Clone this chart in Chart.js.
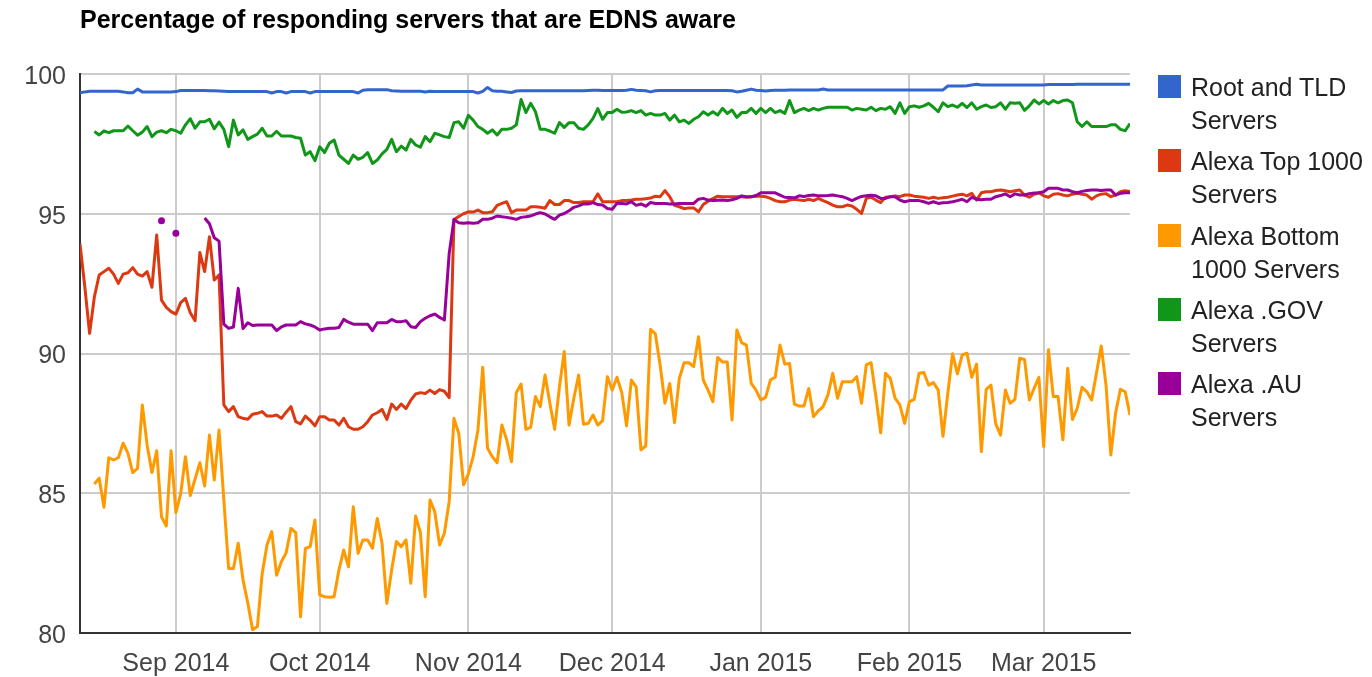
<!DOCTYPE html>
<html>
<head>
<meta charset="utf-8">
<title>EDNS aware servers</title>
<script src="https://cdn.jsdelivr.net/npm/chart.js@4.4.1/dist/chart.umd.min.js"></script>
<style>
  html, body { margin: 0; padding: 0; background: #fff; }
  #wrap { position: relative; width: 1372px; height: 677px; font-family: Arial, "Liberation Sans", sans-serif; }
  #chartTitle { position: absolute; left: 80px; top: 7px; font-size: 25px; line-height: 25px; font-weight: bold; color: #000; white-space: nowrap; }
  #legend { position: absolute; left: 1158px; top: 0; }
  .leg-item { position: absolute; left: 0; width: 214px; }
  .leg-box { position: absolute; left: 0; top: 4px; width: 23px; height: 23px; }
  .leg-text { position: absolute; left: 33px; top: 0; font-size: 25px; line-height: 33px; color: #222; white-space: nowrap; }
</style>
</head>
<body>
<div id="wrap">
  <canvas id="ednsChart"></canvas>
  <div id="chartTitle">Percentage of responding servers that are EDNS aware</div>
  <div id="legend"></div>
</div>
<script>
// daily samples, day 0 = 12 Aug 2014, day 219 = 19 Mar 2015
const startDate = new Date(2014, 7, 12);

const tickDays = [20, 50, 81, 111, 142, 173, 201];
const tickLabels = ['Sep 2014', 'Oct 2014', 'Nov 2014', 'Dec 2014', 'Jan 2015', 'Feb 2015', 'Mar 2015'];

const seriesNames = [
    ['Root and TLD', 'Servers'],
    ['Alexa Top 1000', 'Servers'],
    ['Alexa Bottom', '1000 Servers'],
    ['Alexa .GOV', 'Servers'],
    ['Alexa .AU', 'Servers']
];
const seriesColors = ['#3366cc', '#dc3912', '#ff9900', '#109618', '#990099'];

const rootTld = [
    99.33, 99.36, 99.38, 99.38, 99.38, 99.38, 99.38, 99.38, 99.38, 99.36,
    99.33, 99.33, 99.46, 99.36, 99.36, 99.36, 99.36, 99.36, 99.36, 99.36,
    99.37, 99.41, 99.41, 99.41, 99.41, 99.41, 99.41, 99.40, 99.40, 99.39,
    99.38, 99.37, 99.37, 99.37, 99.37, 99.37, 99.37, 99.37, 99.37, 99.37,
    99.32, 99.37, 99.37, 99.32, 99.37, 99.37, 99.37, 99.37, 99.32, 99.37,
    99.37, 99.37, 99.37, 99.37, 99.37, 99.37, 99.37, 99.37, 99.32, 99.42,
    99.44, 99.44, 99.44, 99.44, 99.44, 99.40, 99.39, 99.38, 99.38, 99.38,
    99.38, 99.38, 99.36, 99.38, 99.37, 99.37, 99.37, 99.37, 99.37, 99.37,
    99.37, 99.37, 99.37, 99.32, 99.38, 99.52, 99.40, 99.38, 99.38, 99.36,
    99.34, 99.39, 99.40, 99.40, 99.40, 99.40, 99.40, 99.40, 99.40, 99.40,
    99.40, 99.40, 99.40, 99.40, 99.40, 99.40, 99.41, 99.42, 99.42, 99.41,
    99.41, 99.41, 99.41, 99.41, 99.42, 99.45, 99.42, 99.41, 99.40, 99.36,
    99.40, 99.41, 99.41, 99.41, 99.41, 99.41, 99.41, 99.41, 99.41, 99.41,
    99.41, 99.41, 99.41, 99.41, 99.41, 99.41, 99.40, 99.36, 99.38, 99.42,
    99.46, 99.42, 99.41, 99.39, 99.41, 99.42, 99.42, 99.42, 99.43, 99.43,
    99.43, 99.43, 99.43, 99.43, 99.43, 99.46, 99.43, 99.43, 99.43, 99.43,
    99.43, 99.43, 99.43, 99.43, 99.43, 99.43, 99.43, 99.43, 99.43, 99.43,
    99.43, 99.43, 99.43, 99.43, 99.43, 99.43, 99.43, 99.43, 99.43, 99.43,
    99.43, 99.57, 99.57, 99.57, 99.57, 99.58, 99.61, 99.63, 99.61, 99.61,
    99.61, 99.61, 99.61, 99.61, 99.61, 99.61, 99.61, 99.61, 99.61, 99.61,
    99.61, 99.61, 99.62, 99.62, 99.62, 99.62, 99.62, 99.62, 99.63, 99.63,
    99.63, 99.63, 99.63, 99.63, 99.63, 99.63, 99.63, 99.63, 99.63, 99.63
];

const alexaTop = [
    93.92, 92.39, 90.72, 92.03, 92.81, 92.93, 93.05, 92.84, 92.51, 92.84,
    92.89, 93.07, 92.84, 92.77, 92.93, 92.37, 94.24, 91.91, 91.65, 91.50,
    91.41, 91.82, 91.97, 91.46, 91.17, 93.61, 92.93, 94.18, 92.63, 92.81,
    88.16, 87.92, 88.10, 87.74, 87.68, 87.65, 87.83, 87.86, 87.92, 87.76,
    87.76, 87.80, 87.68, 87.90, 88.10, 87.56, 87.48, 87.76, 87.61, 87.41,
    87.74, 87.74, 87.62, 87.62, 87.44, 87.68, 87.38, 87.29, 87.29, 87.38,
    87.56, 87.80, 87.88, 88.00, 87.64, 88.19, 88.00, 88.19, 88.03, 88.33,
    88.55, 88.60, 88.57, 88.69, 88.57, 88.71, 88.65, 88.42, 94.79, 94.90,
    95.00, 95.07, 95.06, 95.13, 95.04, 95.04, 95.07, 95.30, 95.37, 95.43,
    95.04, 95.13, 95.13, 95.13, 95.25, 95.25, 95.23, 95.20, 95.47, 95.33,
    95.33, 95.47, 95.47, 95.40, 95.40, 95.43, 95.43, 95.43, 95.71, 95.43,
    95.43, 95.43, 95.43, 95.47, 95.47, 95.49, 95.52, 95.52, 95.54, 95.56,
    95.63, 95.61, 95.83, 95.61, 95.30, 95.25, 95.18, 95.21, 95.21, 95.07,
    95.33, 95.45, 95.54, 95.63, 95.61, 95.61, 95.61, 95.61, 95.61, 95.59,
    95.61, 95.63, 95.63, 95.61, 95.55, 95.47, 95.43, 95.43, 95.49, 95.52,
    95.49, 95.47, 95.52, 95.47, 95.55, 95.47, 95.40, 95.31, 95.25, 95.25,
    95.31, 95.28, 95.16, 95.01, 95.55, 95.59, 95.49, 95.40, 95.59, 95.61,
    95.64, 95.61, 95.67, 95.67, 95.63, 95.61, 95.59, 95.55, 95.59, 95.55,
    95.57, 95.59, 95.63, 95.67, 95.70, 95.64, 95.73, 95.49, 95.75, 95.79,
    95.79, 95.83, 95.85, 95.82, 95.79, 95.82, 95.85, 95.67, 95.59, 95.70,
    95.75, 95.64, 95.59, 95.70, 95.72, 95.67, 95.64, 95.70, 95.73, 95.70,
    95.67, 95.52, 95.64, 95.70, 95.72, 95.61, 95.67, 95.79, 95.82, 95.80
];

const alexaBottom = [
    null, null, null, 85.33, 85.54, 84.50, 86.27, 86.19, 86.27, 86.79,
    86.43, 85.74, 85.89, 88.16, 86.73, 85.74, 86.52, 84.16, 83.83, 86.52,
    84.31, 84.99, 86.31, 84.92, 85.51, 86.09, 85.26, 87.08, 85.47, 87.26,
    84.76, 82.31, 82.31, 83.21, 81.90, 81.07, 80.12, 80.23, 82.13, 83.15,
    83.63, 82.07, 82.55, 82.87, 83.74, 83.59, 80.58, 83.03, 83.09, 84.04,
    81.36, 81.30, 81.28, 81.30, 82.25, 82.97, 82.37, 84.52, 82.85, 83.33,
    83.33, 83.03, 84.10, 83.21, 81.06, 82.25, 83.27, 83.09, 83.33, 81.78,
    84.19, 83.59, 81.30, 84.76, 84.34, 83.15, 83.57, 84.70, 87.68, 87.14,
    85.30, 85.69, 86.31, 87.26, 89.51, 86.61, 86.31, 86.09, 87.44, 86.91,
    86.13, 88.60, 88.91, 87.29, 87.36, 88.46, 88.10, 89.23, 88.22, 87.29,
    88.81, 90.07, 87.44, 88.40, 89.23, 87.47, 87.50, 87.80, 87.44, 87.60,
    89.17, 88.69, 89.15, 88.60, 87.41, 89.05, 88.81, 86.55, 86.69, 90.86,
    90.70, 89.59, 88.22, 88.93, 87.53, 89.11, 89.67, 89.67, 89.53, 90.60,
    89.05, 88.69, 88.28, 89.86, 89.70, 89.70, 87.62, 90.84, 90.39, 90.30,
    88.93, 88.69, 88.34, 88.43, 89.05, 89.15, 90.30, 89.62, 89.64, 88.19,
    88.12, 88.12, 88.75, 87.74, 87.95, 88.10, 88.52, 89.29, 88.40, 88.99,
    88.99, 88.99, 89.17, 88.22, 89.59, 89.67, 88.46, 87.16, 89.29, 89.11,
    88.40, 88.16, 87.50, 88.28, 88.36, 89.29, 89.32, 88.87, 88.96, 88.69,
    87.04, 88.58, 89.99, 89.27, 89.95, 90.01, 89.15, 89.62, 86.49, 88.72,
    88.87, 87.48, 87.08, 88.69, 88.22, 88.36, 89.83, 89.79, 88.34, 88.75,
    89.15, 86.67, 90.13, 88.46, 88.46, 86.91, 89.47, 87.64, 88.04, 88.79,
    88.63, 88.34, 89.29, 90.27, 88.87, 86.37, 87.88, 88.72, 88.63, 87.80
];

const alexaGov = [
    null, null, null, 97.94, 97.82, 97.96, 97.90, 97.97, 97.97, 97.97,
    98.14, 97.97, 97.81, 97.92, 98.12, 97.76, 97.92, 97.97, 97.90, 98.02,
    97.97, 97.88, 98.18, 98.40, 98.06, 98.29, 98.29, 98.38, 98.04, 98.28,
    98.02, 97.40, 98.35, 97.82, 98.00, 97.66, 97.76, 97.85, 98.06, 97.78,
    97.78, 97.95, 97.78, 97.78, 97.78, 97.73, 97.70, 97.10, 97.22, 96.90,
    97.40, 97.19, 97.52, 97.64, 97.10, 96.95, 96.80, 97.10, 96.95, 97.02,
    97.19, 96.80, 96.92, 97.14, 97.30, 97.66, 97.22, 97.42, 97.28, 97.66,
    97.46, 97.38, 97.76, 97.58, 97.88, 97.82, 97.76, 97.73, 98.26, 98.29,
    98.06, 98.52, 98.35, 98.12, 98.02, 97.88, 98.00, 97.82, 98.02, 98.02,
    98.06, 98.18, 99.09, 98.62, 98.95, 98.65, 98.02, 98.02, 97.96, 97.88,
    98.26, 98.09, 98.26, 98.26, 98.06, 98.02, 98.18, 98.41, 98.76, 98.38,
    98.62, 98.62, 98.74, 98.63, 98.64, 98.69, 98.62, 98.69, 98.53, 98.59,
    98.53, 98.53, 98.59, 98.35, 98.53, 98.29, 98.35, 98.23, 98.38, 98.47,
    98.65, 98.53, 98.65, 98.53, 98.77, 98.59, 98.71, 98.45, 98.62, 98.62,
    98.77, 98.59, 98.77, 98.62, 98.77, 98.62, 98.69, 98.59, 99.05, 98.62,
    98.71, 98.77, 98.69, 98.77, 98.71, 98.77, 98.81, 98.81, 98.81, 98.81,
    98.81, 98.71, 98.77, 98.74, 98.71, 98.81, 98.69, 98.77, 98.74, 98.83,
    98.59, 98.97, 98.59, 98.83, 98.86, 98.81, 98.86, 98.95, 98.81, 98.65,
    98.97, 98.83, 98.89, 98.81, 98.95, 98.80, 98.97, 98.74, 98.83, 98.89,
    98.80, 98.83, 98.97, 98.74, 98.97, 98.95, 98.97, 98.70, 98.86, 99.07,
    98.93, 99.05, 98.93, 99.05, 98.97, 99.05, 99.07, 98.97, 98.29, 98.12,
    98.29, 98.12, 98.12, 98.12, 98.12, 98.18, 98.18, 98.02, 97.97, 98.23
];

const alexaAu = [
    null, null, null, null, null, null, null, null, null, null,
    null, null, null, null, null, null, null, 94.75, null, null,
    94.30, null, null, null, null, null, 94.85, 94.64, 94.14, 94.02,
    91.05, 90.90, 90.95, 92.33, 90.89, 91.10, 91.00, 91.02, 91.02, 91.02,
    91.02, 90.82, 90.95, 91.02, 91.02, 91.02, 91.14, 91.06, 91.02, 90.95,
    90.84, 90.88, 90.90, 90.90, 90.93, 91.22, 91.12, 91.05, 91.05, 91.05,
    91.05, 90.82, 91.10, 91.10, 91.10, 91.22, 91.14, 91.14, 91.17, 90.96,
    90.93, 91.14, 91.26, 91.35, 91.41, 91.29, 91.20, 93.58, 94.79, 94.68,
    94.66, 94.68, 94.66, 94.68, 94.80, 94.80, 94.84, 94.92, 94.89, 94.87,
    94.84, 94.80, 94.87, 94.89, 94.92, 94.99, 95.04, 94.99, 94.89, 94.80,
    94.95, 95.01, 95.11, 95.23, 95.28, 95.35, 95.35, 95.40, 95.33, 95.31,
    95.19, 95.16, 95.37, 95.37, 95.35, 95.43, 95.30, 95.35, 95.27, 95.40,
    95.37, 95.37, 95.37, 95.35, 95.35, 95.37, 95.37, 95.37, 95.37, 95.52,
    95.55, 95.49, 95.47, 95.48, 95.49, 95.47, 95.50, 95.55, 95.64, 95.61,
    95.61, 95.65, 95.75, 95.75, 95.75, 95.75, 95.67, 95.59, 95.58, 95.57,
    95.64, 95.62, 95.65, 95.67, 95.64, 95.64, 95.65, 95.67, 95.64, 95.61,
    95.55, 95.47, 95.55, 95.62, 95.64, 95.66, 95.64, 95.55, 95.55, 95.61,
    95.61, 95.49, 95.43, 95.47, 95.47, 95.47, 95.43, 95.37, 95.43, 95.37,
    95.39, 95.40, 95.43, 95.47, 95.52, 95.43, 95.59, 95.52, 95.50, 95.52,
    95.52, 95.61, 95.65, 95.71, 95.61, 95.71, 95.67, 95.67, 95.72, 95.74,
    95.75, 95.79, 95.91, 95.91, 95.91, 95.85, 95.85, 95.79, 95.75, 95.80,
    95.83, 95.85, 95.85, 95.83, 95.85, 95.85, 95.67, 95.73, 95.75, 95.75
];

document.addEventListener('DOMContentLoaded', function() {

    const allSeries = [rootTld, alexaTop, alexaBottom, alexaGov, alexaAu];
    allSeries.forEach((s, i) => {
        if (s.length !== 220) throw new Error('series ' + i + ' has ' + s.length + ' points');
    });

    // 1. Legend (html, right side)
    const legend = document.getElementById('legend');
    const legendTops = [71, 145, 220, 294, 368];
    seriesNames.forEach((lines, i) => {
        const item = document.createElement('div');
        item.className = 'leg-item';
        item.style.top = legendTops[i] + 'px';
        item.innerHTML = `
            <div class="leg-box" style="background:${seriesColors[i]}"></div>
            <div class="leg-text">${lines[0]}<br>${lines[1]}</div>
        `;
        legend.appendChild(item);
    });

    // 2. Build datasets
    function toPoints(values) {
        return values.map((v, i) => ({ x: i, y: v }));
    }

    // a lone point between two gaps gets a dot, everything else is line only
    function isolated(values, i) {
        if (values[i] == null) return false;
        const prev = i > 0 ? values[i - 1] : null;
        const next = i < values.length - 1 ? values[i + 1] : null;
        return prev == null && next == null;
    }

    const datasets = allSeries.map((values, i) => ({
        label: seriesNames[i].join(' '),
        data: toPoints(values),
        borderColor: seriesColors[i],
        backgroundColor: seriesColors[i],
        borderWidth: 3,
        borderJoinStyle: 'round',
        tension: 0,
        spanGaps: false,
        pointRadius: ctx => isolated(values, ctx.dataIndex) ? 3.5 : 0,
        pointBorderWidth: 0,
        pointHoverRadius: 0,
        order: allSeries.length - i
    }));

    // 3. Draw Chart
    const ctx = document.getElementById('ednsChart').getContext('2d');
    const tickFont = { family: 'Arial, "Liberation Sans", sans-serif', size: 25 };

    new Chart(ctx, {
        type: 'line',
        data: { datasets: datasets },
        options: {
            responsive: true,
            maintainAspectRatio: false,
            animation: false,
            events: [],
            layout: { padding: { left: 0, top: 74, right: 242, bottom: 0 } },
            plugins: {
                legend: { display: false },
                title: { display: false },
                tooltip: { enabled: false }
            },
            scales: {
                x: {
                    type: 'linear',
                    min: 0,
                    max: 219,
                    afterBuildTicks: scale => {
                        scale.ticks = tickDays.map(d => ({ value: d }));
                    },
                    afterFit: scale => { scale.height = 44; },
                    ticks: {
                        autoSkip: false,
                        maxRotation: 0,
                        padding: 16,
                        color: '#444',
                        font: tickFont,
                        callback: value => tickLabels[tickDays.indexOf(value)]
                    },
                    grid: { color: '#cccccc', lineWidth: 2, drawTicks: false },
                    border: { display: true, color: '#333', width: 2 }
                },
                y: {
                    min: 80,
                    max: 100,
                    afterFit: scale => { scale.width = 80; },
                    ticks: {
                        stepSize: 5,
                        padding: 14,
                        labelOffset: 3,
                        color: '#444',
                        font: tickFont
                    },
                    grid: { color: '#cccccc', lineWidth: 2, drawTicks: false },
                    border: { display: true, color: '#333', width: 2 }
                }
            }
        }
    });
});
</script>
</body>
</html>
